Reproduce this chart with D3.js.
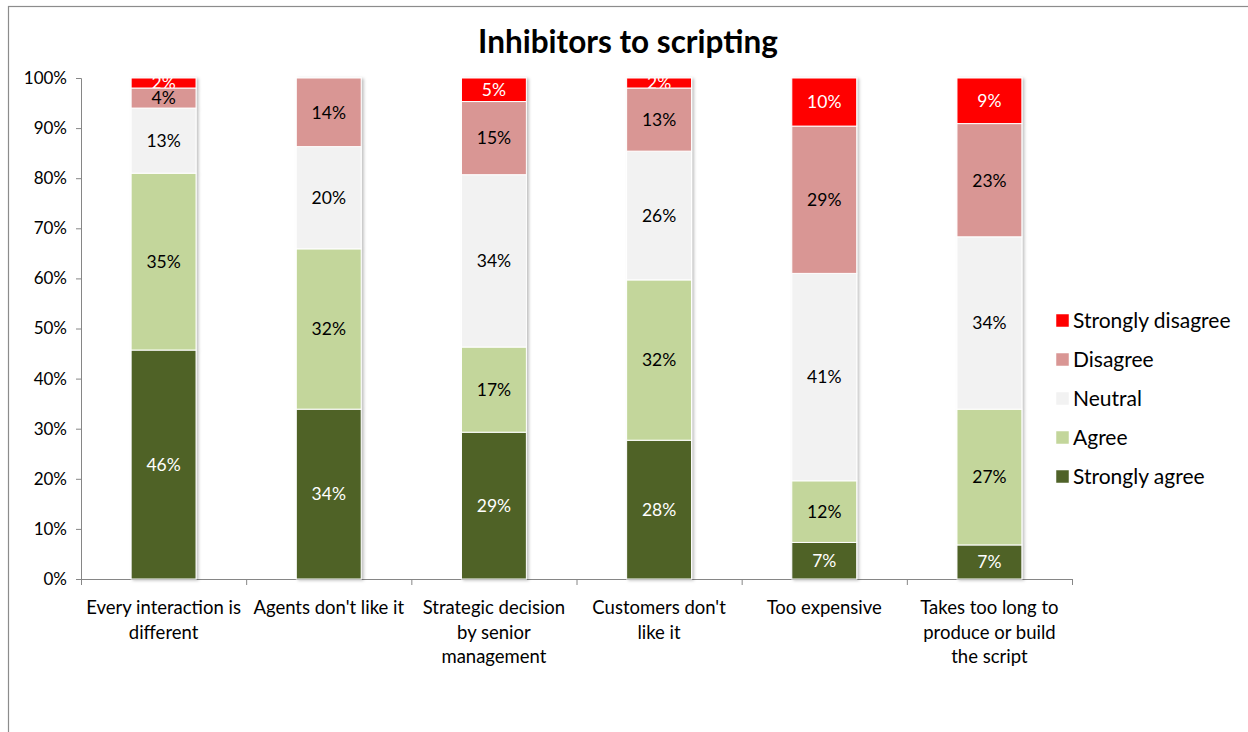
<!DOCTYPE html>
<html>
<head>
<meta charset="utf-8">
<script src="https://cdn.jsdelivr.net/npm/d3@7"></script>
<style>
  body { margin: 0; background: #fff; }
  svg { display: block; font-family: Lato, "Open Sans", sans-serif; }
</style>
</head>
<body>
<div id="chart"></div>
<script>
// data (percent shares)
var categories = [
  "Every interaction is different",
  "Agents don't like it",
  "Strategic decision by senior management",
  "Customers don't like it",
  "Too expensive",
  "Takes too long to produce or build the script"
];
// tick labels as wrapped in the original
var categoryLines = [
  ["Every interaction is", "different"],
  ["Agents don't like it"],
  ["Strategic decision", "by senior", "management"],
  ["Customers don't", "like it"],
  ["Too expensive"],
  ["Takes too long to", "produce or build", "the script"]
];
var seriesNames = ["Strongly agree", "Agree", "Neutral", "Disagree", "Strongly disagree"];
var stronglyAgree    = [45.7, 33.9, 29.3, 27.7, 7.3, 6.8];
var agree            = [35.3, 32.0, 17.0, 32.0, 12.3, 27.1];
var neutral          = [13.0, 20.4, 34.4, 25.7, 41.4, 34.4];
var disagree         = [4.0, 13.7, 14.6, 12.6, 29.4, 22.6];
var stronglyDisagree = [2.0, 0, 4.7, 2.0, 9.6, 9.1];
var yTicks = [0, 10, 20, 30, 40, 50, 60, 70, 80, 90, 100];

var colors = {
  "Strongly agree": "#4f6228",
  "Agree": "#c3d69b",
  "Neutral": "#f2f2f2",
  "Disagree": "#d99694",
  "Strongly disagree": "#ff0000"
};
var labelColors = {
  "Strongly agree": "#fff",
  "Agree": "#000",
  "Neutral": "#000",
  "Disagree": "#000",
  "Strongly disagree": "#fff"
};

var W = 1248, H = 732;
var margin = { top: 78, left: 81 },
  plotW = 991,
  plotH = 501;

var svg = d3.select("#chart").append("svg")
  .attr("width", W)
  .attr("height", H);

// outer chart frame (only top and left edges fall inside the window)
svg.append("rect")
  .attr("x", 8.5).attr("y", 6.5)
  .attr("width", W + 20).attr("height", H + 20)
  .attr("fill", "none").attr("stroke", "#8c8c8c").attr("stroke-width", 1.2);

var defs = svg.append("defs");
var shadow = defs.append("filter").attr("id", "shadow")
  .attr("x", "-20%").attr("y", "-5%").attr("width", "140%").attr("height", "110%");
shadow.append("feDropShadow")
  .attr("dx", 2).attr("dy", 1).attr("stdDeviation", 1.5)
  .attr("flood-color", "#000").attr("flood-opacity", 0.25);

svg.append("text")
  .attr("x", 628).attr("y", 53)
  .attr("text-anchor", "middle")
  .attr("font-size", 31.5).attr("font-weight", "bold")
  .text("Inhibitors to scripting");

var g = svg.append("g")
  .attr("transform", "translate(" + margin.left + "," + margin.top + ")");

var x = d3.scaleBand().domain(categories).range([0, plotW]).padding(0);
var y = d3.scaleLinear().domain([0, 100]).range([plotH, 0]);
var barW = x.bandwidth() * 0.393;

// build table for stack
var table = categories.map(function(c, i) {
  return {
    category: c,
    "Strongly agree": stronglyAgree[i],
    "Agree": agree[i],
    "Neutral": neutral[i],
    "Disagree": disagree[i],
    "Strongly disagree": stronglyDisagree[i]
  };
});
var stacked = d3.stack().keys(seriesNames)(table);

// y axis
var yAxis = g.append("g")
  .call(d3.axisLeft(y).tickValues(yTicks).tickSize(5).tickPadding(9)
    .tickFormat(function(d) { return d + "%"; }));
yAxis.selectAll("path, line").attr("stroke", "#868686");
yAxis.selectAll("text").attr("font-size", 17).attr("fill", "#000")
  .attr("font-family", "Lato, sans-serif");

// x axis with ticks at category boundaries
var xi = d3.scaleLinear().domain([0, categories.length]).range([0, plotW]);
var xAxis = g.append("g")
  .attr("transform", "translate(0," + plotH + ")")
  .call(d3.axisBottom(xi).tickValues(d3.range(categories.length + 1))
    .tickSize(6).tickSizeOuter(0).tickFormat(""));
xAxis.selectAll("path, line").attr("stroke", "#868686");

// bars
var bars = g.append("g").attr("filter", "url(#shadow)");
var layers = bars.selectAll("g.layer")
  .data(stacked)
  .enter().append("g")
  .attr("class", "layer")
  .attr("fill", function(d) { return colors[d.key]; });

layers.selectAll("rect")
  .data(function(d) { return d.filter(function(p) { return p[1] - p[0] > 0; }); })
  .enter().append("rect")
  .attr("x", function(d) { return x(d.data.category) + (x.bandwidth() - barW) / 2; })
  .attr("y", function(d) { return y(d[1]); })
  .attr("width", barW)
  .attr("height", function(d) { return y(d[0]) - y(d[1]); })
  .attr("stroke", "#fff")
  .attr("stroke-width", 1);

// labels, clipped to their segment
var labelData = [];
stacked.forEach(function(s) {
  s.forEach(function(p) {
    if (p[1] - p[0] > 0) labelData.push({ key: s.key, y0: p[0], y1: p[1], category: p.data.category, v: p.data[s.key] });
  });
});

labelData.forEach(function(d, i) {
  defs.append("clipPath").attr("id", "clip" + i)
    .append("rect")
    .attr("x", x(d.category) + (x.bandwidth() - barW) / 2)
    .attr("y", y(d.y1))
    .attr("width", barW)
    .attr("height", y(d.y0) - y(d.y1));
});

g.append("g").selectAll("text")
  .data(labelData)
  .enter().append("text")
  .attr("clip-path", function(d, i) { return "url(#clip" + i + ")"; })
  .attr("x", function(d) { return x(d.category) + x.bandwidth() / 2; })
  .attr("y", function(d) { return (y(d.y0) + y(d.y1)) / 2; })
  .attr("dy", "0.36em")
  .attr("text-anchor", "middle")
  .attr("font-size", 17.5)
  .attr("fill", function(d) { return labelColors[d.key]; })
  .text(function(d) { return Math.round(d.v) + "%"; });

// category labels
var catLabels = g.append("g").selectAll("text")
  .data(categories)
  .enter().append("text")
  .attr("x", function(d) { return x(d) + x.bandwidth() / 2; })
  .attr("y", plotH + 35)
  .attr("text-anchor", "middle")
  .attr("font-size", 18.5)
  .attr("fill", "#000");

catLabels.selectAll("tspan")
  .data(function(d, i) { return categoryLines[i]; })
  .enter().append("tspan")
  .attr("x", function() { return d3.select(this.parentNode).attr("x"); })
  .attr("dy", function(d, i) { return i === 0 ? 0 : 24.5; })
  .text(function(d) { return d; });

// legend
var legendNames = seriesNames.slice().reverse();
var legend = svg.append("g").attr("transform", "translate(1056,321)");
var li = legend.selectAll("g")
  .data(legendNames)
  .enter().append("g")
  .attr("transform", function(d, i) { return "translate(0," + i * 39 + ")"; });
li.append("rect")
  .attr("x", 0).attr("y", -7)
  .attr("width", 13).attr("height", 13)
  .attr("fill", function(d) { return colors[d]; })
  .attr("stroke", "#fff").attr("stroke-width", 0.5);
li.append("text")
  .attr("x", 17).attr("y", 0).attr("dy", "0.35em")
  .attr("font-size", 21)
  .attr("fill", "#000")
  .text(function(d) { return d; });
</script>
</body>
</html>
